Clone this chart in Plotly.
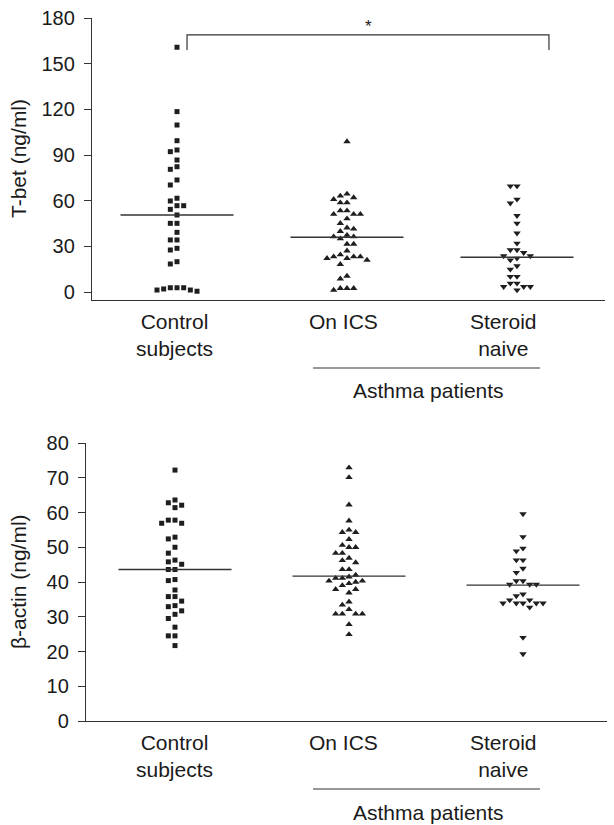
import plotly.graph_objects as go

# ---------------- data ----------------
groups = ["Control<br>subjects", "On ICS", "Steroid<br>naive"]
group_note = "Asthma patients"

tbet_control = [160.8, 118.5, 109.7, 99.4, 93.3, 92.2, 86.7, 82.3, 80.6, 73.6, 70.3,
                61.6, 59.8, 56.7, 56.7, 54.3, 50.6, 45.1, 45.1, 39.2, 34.2, 34.2,
                28.7, 27.6, 19.9, 18.4, 2.8, 2.8, 2.8, 2.0, 1.3, 1.3, 0.5]
tbet_ics = [98.8, 64.4, 63.1, 62.0, 60.9, 58.7, 58.7, 53.4, 53.4, 51.1, 51.1, 51.1,
            48.2, 45.1, 42.2, 41.4, 39.9, 37.3, 36.3, 36.3, 35.0, 31.5, 31.5, 27.1,
            24.5, 23.2, 23.2, 23.2, 22.1, 22.1, 21.0, 18.2, 10.5, 8.7, 2.4, 2.4, 2.4, 1.3]
tbet_naive = [69.6, 69.6, 60.9, 58.3, 50.1, 45.1, 38.6, 32.0, 27.6, 27.6, 25.8, 23.7,
              23.7, 22.1, 21.0, 17.1, 14.9, 10.1, 10.1, 5.7, 5.7, 3.5, 3.5, 3.5, 1.3]
tbet_median = [50.6, 36.0, 22.8]

actin_control = [72.2, 63.6, 62.8, 62.1, 61.4, 57.8, 57.8, 56.9, 56.9, 52.9, 52.4, 50.0,
                 48.3, 46.3, 45.8, 45.1, 43.6, 43.6, 40.7, 40.4, 37.7, 35.8, 35.8, 34.5,
                 33.2, 32.9, 31.7, 30.7, 29.5, 27.0, 24.5, 24.5, 21.7]
actin_ics = [72.9, 70.1, 62.2, 57.6, 55.0, 54.3, 54.3, 52.3, 50.6, 50.0, 50.0, 48.3, 48.3,
             46.9, 46.2, 45.6, 43.6, 43.6, 42.0, 41.5, 41.1, 41.1, 40.3, 40.3, 40.0, 39.6,
             39.0, 37.9, 37.9, 36.9, 34.3, 33.4, 32.1, 30.8, 30.8, 30.8, 30.8, 27.8, 24.9]
actin_naive = [59.6, 53.0, 49.7, 48.9, 46.3, 46.3, 43.9, 42.7, 40.3, 40.3, 39.3, 39.3,
               39.3, 36.5, 36.0, 34.8, 34.8, 33.9, 33.9, 33.9, 33.9, 33.9, 32.7, 24.0, 19.3]
actin_median = [43.6, 41.7, 39.1]

tbet_ticks = [0, 30, 60, 90, 120, 150, 180]
actin_ticks = [0, 10, 20, 30, 40, 50, 60, 70, 80]

# ---------------- layout helpers ----------------
W, H = 614, 825
INK = "#1e1e1e"
LINE = "#333333"
TEXT = "#1a1a1a"
FONT = "Liberation Sans, Arial, Helvetica, sans-serif"
FS = 20        # tick labels
FS_LAB = 21    # category labels
FS_TITLE = 21


def px_x(p):
    return p / W


def px_y(p):
    return 1 - p / H


def swarm(values, center, slot_w, thr):
    placed = {}
    xs = [0.0] * len(values)
    order = sorted(range(len(values)), key=lambda i: -values[i])
    slots = [0, -1, 1, -2, 2, -3, 3, -4, 4, -5, 5, -6, 6]
    for i in order:
        v = values[i]
        chosen = slots[-1]
        for s in slots:
            if all(abs(v - u) >= thr for u in placed.get(s, [])):
                chosen = s
                break
        placed.setdefault(chosen, []).append(v)
        xs[i] = center + chosen * slot_w
    return xs


fig = go.Figure()

symbols = ["square", "triangle-up", "triangle-down"]
sizes = [5, 6.5, 6.5]

panels = [
    dict(xa="x", ya="y", data=[tbet_control, tbet_ics, tbet_naive], med=tbet_median,
         spacing=170.0, pxu=1.522),
    dict(xa="x2", ya="y2", data=[actin_control, actin_ics, actin_naive], med=actin_median,
         spacing=174.0, pxu=3.475),
]

for p in panels:
    slot_w = 6.67 / p["spacing"]
    thr = 6.0 / p["pxu"]
    half = 56.5 / p["spacing"]
    for gi, vals in enumerate(p["data"]):
        xs = swarm(vals, gi, slot_w, thr)
        fig.add_trace(go.Scatter(
            x=xs, y=vals, mode="markers", xaxis=p["xa"], yaxis=p["ya"],
            marker=dict(symbol=symbols[gi], size=sizes[gi], color=INK,
                        line=dict(width=0)),
            showlegend=False, hoverinfo="y"))
        fig.add_trace(go.Scatter(
            x=[gi - half, gi + half], y=[p["med"][gi], p["med"][gi]],
            mode="lines", xaxis=p["xa"], yaxis=p["ya"],
            line=dict(color=LINE, width=1.4), showlegend=False, hoverinfo="skip"))

# significance bracket (top panel)
fig.add_trace(go.Scatter(
    x=[0.059, 0.059, 2.188, 2.188], y=[159, 168.9, 168.9, 159], mode="lines",
    xaxis="x", yaxis="y", line=dict(color=LINE, width=1.2),
    showlegend=False, hoverinfo="skip"))

axis_common = dict(showgrid=False, zeroline=False, showline=True, linecolor=LINE,
                   linewidth=1.3, automargin=False)

fig.update_layout(
    template="none",
    width=W, height=H, autosize=False,
    margin=dict(l=0, r=0, t=0, b=0, pad=0, autoexpand=False),
    paper_bgcolor="white", plot_bgcolor="white", showlegend=False,
    font=dict(family=FONT, size=FS, color=TEXT),
    xaxis=dict(domain=[px_x(92), px_x(605)],
               range=[(92 - 177) / 170.0, (605 - 177) / 170.0],
               showticklabels=False, ticks="", anchor="y", **axis_common),
    yaxis=dict(domain=[px_y(300), px_y(18)], range=[-8 / 1.522, 180],
               tickvals=tbet_ticks, ticks="outside", ticklen=7, tickwidth=1.2,
               tickcolor=LINE, ticklabelstandoff=5, anchor="x",
               tickfont=dict(size=FS, color=TEXT), **axis_common),
    xaxis2=dict(domain=[px_x(86), px_x(607)],
                range=[(86 - 175) / 174.0, (607 - 175) / 174.0],
                showticklabels=False, ticks="", anchor="y2", **axis_common),
    yaxis2=dict(domain=[px_y(721), px_y(443)], range=[0, 80],
                tickvals=actin_ticks, ticks="outside", ticklen=7, tickwidth=1.2,
                tickcolor=LINE, ticklabelstandoff=5, anchor="x2",
                tickfont=dict(size=FS, color=TEXT), **axis_common),
)

annotations = []


def label(text, xc, yc, size=FS_LAB, angle=0, yanchor="middle"):
    annotations.append(dict(text=text, x=px_x(xc), y=px_y(yc), xref="paper", yref="paper",
                            xanchor="center", yanchor=yanchor, showarrow=False,
                            textangle=angle, borderpad=0,
                            font=dict(size=size, family=FONT, color=TEXT)))


label_x = [174, 343, 503]
for dy in (0, 421):
    for gi, g in enumerate(groups):
        label(g, label_x[gi], 309 + dy, yanchor="top")
    label(group_note, 428, 391 + dy)

label("T-bet (ng/ml)", 18, 159, size=FS_TITLE, angle=-90)
label("β-actin (ng/ml)", 18, 582, size=FS_TITLE, angle=-90)
label("*", 368, 27, size=17)

fig.update_layout(annotations=annotations)

shapes = []
for yl in (368, 789):
    shapes.append(dict(type="line", xref="paper", yref="paper",
                       x0=px_x(313), x1=px_x(540), y0=px_y(yl), y1=px_y(yl),
                       line=dict(color=LINE, width=1.2)))
fig.update_layout(shapes=shapes)

fig.write_html(
    "out.html",
    config={"displayModeBar": False, "responsive": False},
    post_script="document.body.style.margin='0';document.body.style.padding='0';"
                "document.body.style.overflow='hidden';",
)
